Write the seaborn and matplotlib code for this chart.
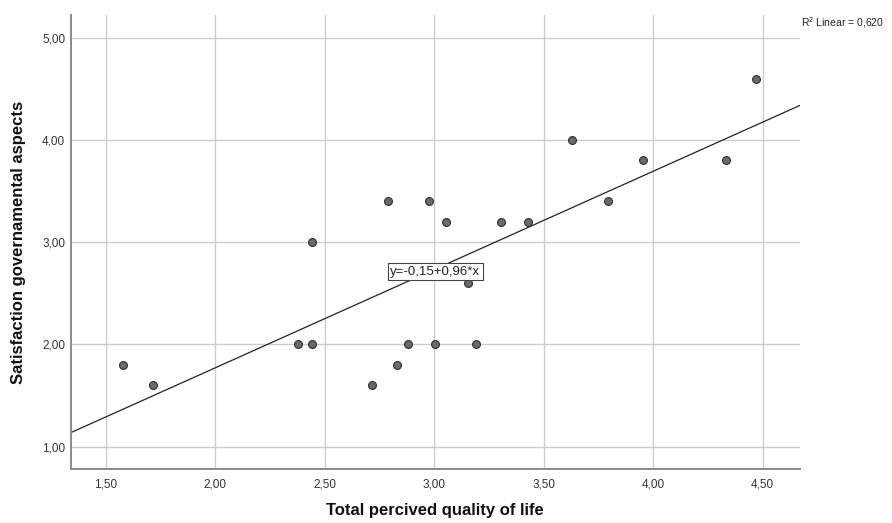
import matplotlib
matplotlib.use("Agg")
import matplotlib.pyplot as plt
import seaborn as sns
import numpy as np
import pandas as pd
from matplotlib.ticker import FuncFormatter, FixedLocator

# Data
quality_of_life = [1.578, 1.717, 2.378, 2.441, 2.441, 2.715, 2.791, 2.830, 2.880,
                   2.977, 3.005, 3.054, 3.153, 3.191, 3.305, 3.430, 3.628, 3.793,
                   3.956, 4.331, 4.468]
satisfaction = [1.8, 1.6, 2.0, 2.0, 3.0, 1.6, 3.4, 1.8, 2.0,
                3.4, 2.0, 3.2, 2.6, 2.0, 3.2, 3.2, 4.0, 3.4,
                3.8, 3.8, 4.6]
x_ticks = [1.5, 2.0, 2.5, 3.0, 3.5, 4.0, 4.5]
y_ticks = [1.0, 2.0, 3.0, 4.0, 5.0]
equation_text = "y=-0,15+0,96*x"
r2_text = "R$^2$ Linear = 0,620"
x_label = "Total percived quality of life"
y_label = "Satisfaction governamental aspects"

df = pd.DataFrame({"x": quality_of_life, "y": satisfaction})

sns.set_style("white")
plt.rcParams["font.family"] = ["Liberation Sans", "DejaVu Sans"]
plt.rcParams["mathtext.fontset"] = "custom"
plt.rcParams["mathtext.rm"] = "Liberation Sans"

W, H = 892, 523
L, R, T, B = 70.7, 800, 15, 469
fig = plt.figure(figsize=(W / 100, H / 100), dpi=100)
ax = fig.add_axes([L / W, 1 - B / H, (R - L) / W, (B - T) / H])
ax.set_xlim(1.34, 4.671)
ax.set_ylim(0.782, 5.222)

ax.grid(True, color="#cccccc", linewidth=1.0, zorder=0)
ax.set_axisbelow(True)

sns.regplot(data=df, x="x", y="y", ax=ax, ci=None, truncate=False,
            scatter_kws=dict(s=32, color="#6a6a6a", edgecolors="#2e2e2e",
                             linewidths=0.8, alpha=1, zorder=3),
            line_kws=dict(color="#222222", linewidth=0.9, zorder=2))

ax.xaxis.set_major_locator(FixedLocator(x_ticks))
ax.yaxis.set_major_locator(FixedLocator(y_ticks))
fmt = FuncFormatter(lambda v, p: f"{v:.2f}".replace(".", ","))
ax.xaxis.set_major_formatter(fmt)
ax.yaxis.set_major_formatter(fmt)
ax.tick_params(axis="both", labelsize=8.5, labelcolor="#333333", length=0)
ax.tick_params(axis="x", pad=7)
ax.tick_params(axis="y", pad=4)

for s in ["top", "right"]:
    ax.spines[s].set_visible(False)
for s in ["left", "bottom"]:
    ax.spines[s].set_color("#8a8a8a")
    ax.spines[s].set_linewidth(1.4)

ax.set_xlabel(x_label, fontsize=12, fontweight="bold", color="#111111")
ax.set_ylabel(y_label, fontsize=12, fontweight="bold", color="#111111")
ax.xaxis.set_label_coords(0.5, (B - 510) / (B - T))
ax.yaxis.set_label_coords((18 - L) / (R - L), 0.5)
ax.xaxis.label.set_va("center")
ax.yaxis.label.set_va("center")

ax.text(3.005, 2.712, equation_text, fontsize=9.5, ha="center", va="center",
        color="#222222", zorder=5,
        bbox=dict(boxstyle="square,pad=0.2", facecolor="white",
                  edgecolor="#444444", linewidth=0.8))

fig.text(801 / W, 1 - 23 / H, r2_text, fontsize=7.5, ha="left", va="center",
         color="#222222")

fig.savefig("out.png", dpi=100)
